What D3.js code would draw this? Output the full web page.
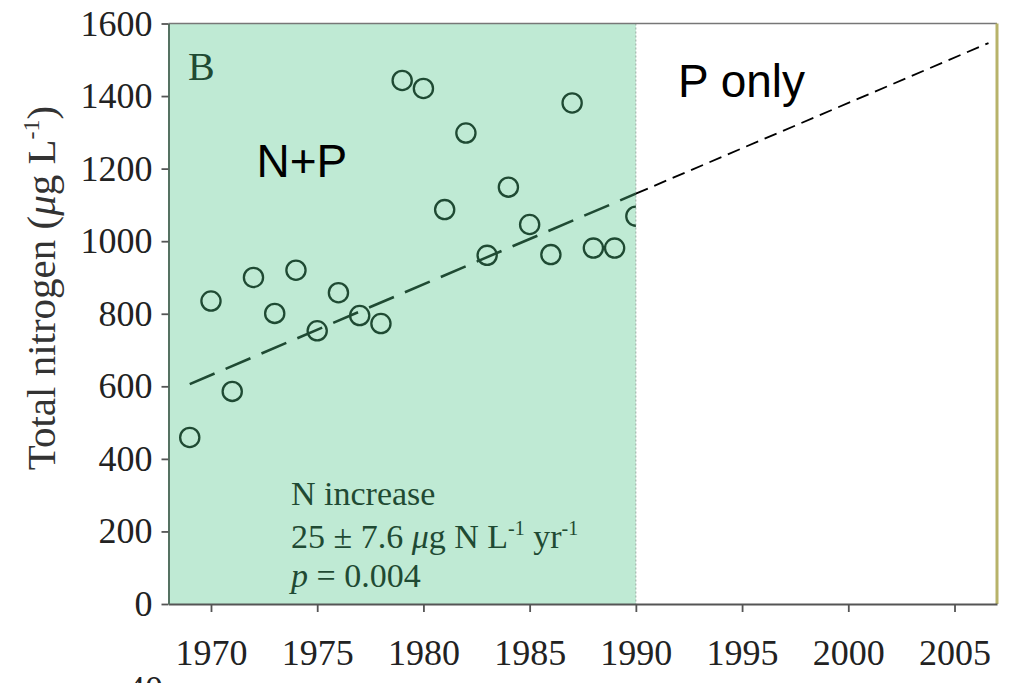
<!DOCTYPE html>
<html>
<head>
<meta charset="utf-8">
<script src="https://cdn.jsdelivr.net/npm/d3@7/dist/d3.min.js"></script>
<style>
  html, body { margin: 0; padding: 0; background: #ffffff; }
  svg { display: block; }
</style>
</head>
<body>
<svg id="chart" width="1009" height="683"></svg>
<script>
// Annual mean total nitrogen, 1969–1990 (µg L-1)
const years  = [1969, 1970, 1971, 1972, 1973, 1974, 1975, 1976, 1977, 1978, 1979,
                1980, 1981, 1982, 1983, 1984, 1985, 1986, 1987, 1988, 1989, 1990];
const totalN = [459, 835, 586, 900, 801, 920, 753, 858, 795, 773, 1443,
                1421, 1087, 1298, 961, 1149, 1046, 963, 1381, 981, 981, 1069];

// Axis ticks
const xTicks = [1970, 1975, 1980, 1985, 1990, 1995, 2000, 2005];
const yTicks = [0, 200, 400, 600, 800, 1000, 1200, 1400, 1600];

// Axis extents
const xDomain = [1968, 2007];
const yDomain = [0, 1600];

// Fertilisation periods
const periodLabels = ["N+P", "P only"];
const periodBounds = [1968, 1990, 2007];

// Linear trend: N increase of 25 µg N L-1 yr-1
const trendSlope = 25;
const trendBaseYear = 1969;
const trendBaseValue = 606;
const trendFitYears = [1969, 1990];     // fitted period
const trendProjYears = [1990, 2006.6];  // projected into the P-only period

const svg = d3.select("#chart");
const serif = "'Liberation Serif', 'Times New Roman', Times, serif";
const sans = "'Liberation Sans', Arial, Helvetica, sans-serif";
const darkGreen = "#1f4a33";

const x = d3.scaleLinear().domain(xDomain).range([168.5, 997]);
const y = d3.scaleLinear().domain(yDomain).range([604, 23.5]);
const trend = yr => trendBaseValue + trendSlope * (yr - trendBaseYear);

// Background panels
svg.append("rect")
  .attr("x", x(periodBounds[0])).attr("y", y(yDomain[1]))
  .attr("width", x(periodBounds[1]) - x(periodBounds[0]))
  .attr("height", y(0) - y(yDomain[1]))
  .attr("fill", "#bfead4");

svg.append("line")
  .attr("x1", x(periodBounds[1])).attr("x2", x(periodBounds[1]))
  .attr("y1", y(yDomain[1])).attr("y2", y(0))
  .attr("stroke", "#9aa8a0").attr("stroke-width", 1)
  .attr("stroke-dasharray", "2,2");

// Observations, clipped to the N+P period
svg.append("clipPath").attr("id", "np-clip")
  .append("rect")
  .attr("x", x(periodBounds[0])).attr("y", 0)
  .attr("width", x(periodBounds[1]) - x(periodBounds[0]))
  .attr("height", y(0));

svg.append("g").attr("clip-path", "url(#np-clip)")
  .selectAll("circle")
  .data(years.map((yr, i) => ({ yr, v: totalN[i] })))
  .join("circle")
  .attr("cx", d => x(d.yr))
  .attr("cy", d => y(d.v))
  .attr("r", 9.6)
  .attr("fill", "none")
  .attr("stroke", darkGreen)
  .attr("stroke-width", 2.3);

// Trend line (fitted period)
svg.append("line")
  .attr("x1", x(trendFitYears[0])).attr("y1", y(trend(trendFitYears[0])))
  .attr("x2", x(trendFitYears[1])).attr("y2", y(trend(trendFitYears[1])))
  .attr("stroke", darkGreen).attr("stroke-width", 2.6)
  .attr("stroke-dasharray", "27,12");

// Trend projection
svg.append("line")
  .attr("x1", x(trendProjYears[0])).attr("y1", y(trend(trendProjYears[0])))
  .attr("x2", x(trendProjYears[1])).attr("y2", y(trend(trendProjYears[1])))
  .attr("stroke", "#000").attr("stroke-width", 1.8)
  .attr("stroke-dasharray", "13,7");

// Frame: top and right edges
svg.append("line")
  .attr("x1", x(xDomain[0])).attr("x2", x(xDomain[1]))
  .attr("y1", y(yDomain[1])).attr("y2", y(yDomain[1]))
  .attr("stroke", "#777").attr("stroke-width", 1.6);
svg.append("line")
  .attr("x1", x(xDomain[1])).attr("x2", x(xDomain[1]))
  .attr("y1", y(yDomain[1])).attr("y2", y(0))
  .attr("stroke", "#b8b36a").attr("stroke-width", 3);

// Axes
const xAxis = svg.append("g")
  .attr("transform", `translate(0,${y(0)})`)
  .call(d3.axisBottom(x).tickValues(xTicks).tickFormat(d3.format("d"))
    .tickSize(8).tickSizeOuter(0).tickPadding(27));
const yAxis = svg.append("g")
  .attr("transform", `translate(${x(xDomain[0])},0)`)
  .call(d3.axisLeft(y).tickValues(yTicks).tickFormat(d3.format("d"))
    .tickSize(7).tickSizeOuter(0).tickPadding(9));

[xAxis, yAxis].forEach(g => {
  g.selectAll(".tick line").attr("stroke", "#555").attr("stroke-width", 1.8);
  g.selectAll(".tick text").attr("fill", "#222")
    .style("font-family", serif).style("font-size", "36px");
});
xAxis.select(".domain").attr("stroke", "#555").attr("stroke-width", 2);
yAxis.select(".domain").attr("stroke", "#557262").attr("stroke-width", 2);

// Y axis title
const yTitle = svg.append("text")
  .attr("transform", "translate(55,288) rotate(-90)")
  .attr("text-anchor", "middle")
  .attr("fill", "#333")
  .style("font-family", serif).style("font-size", "41px");
yTitle.append("tspan").text("Total nitrogen (");
yTitle.append("tspan").style("font-style", "italic").text("μ");
yTitle.append("tspan").text("g L");
yTitle.append("tspan").attr("dy", -16).style("font-size", "24px").text("-1");
yTitle.append("tspan").attr("dy", 16).text(")");

// Panel letter
svg.append("text")
  .attr("x", 188).attr("y", 80)
  .attr("fill", darkGreen)
  .style("font-family", serif).style("font-size", "40px")
  .text("B");

// Period labels
svg.append("text")
  .attr("x", 256.5).attr("y", 177)
  .attr("fill", "#000")
  .style("font-family", sans).style("font-size", "46px")
  .text(periodLabels[0]);
svg.append("text")
  .attr("x", 678).attr("y", 97)
  .attr("fill", "#000")
  .style("font-family", sans).style("font-size", "46px")
  .text(periodLabels[1]);

// Trend annotation
const note = svg.append("g")
  .attr("fill", darkGreen)
  .style("font-family", serif).style("font-size", "34px");
note.append("text").attr("x", 291).attr("y", 505).text("N increase");
const rate = note.append("text").attr("x", 291).attr("y", 548);
rate.append("tspan").text(`${trendSlope} ± 7.6 `);
rate.append("tspan").style("font-style", "italic").text("μ");
rate.append("tspan").text("g N L");
rate.append("tspan").attr("dy", -13).style("font-size", "20px").text("-1");
rate.append("tspan").attr("dy", 13).text(" yr");
rate.append("tspan").attr("dy", -13).style("font-size", "20px").text("-1");
const pval = note.append("text").attr("x", 291).attr("y", 587);
pval.append("tspan").style("font-style", "italic").text("p");
pval.append("tspan").text(" = 0.004");

// Top of the next panel's first tick label
svg.append("text")
  .attr("x", 127).attr("y", 701)
  .attr("fill", "#222")
  .style("font-family", serif).style("font-size", "36px")
  .text("40");
</script>
</body>
</html>
